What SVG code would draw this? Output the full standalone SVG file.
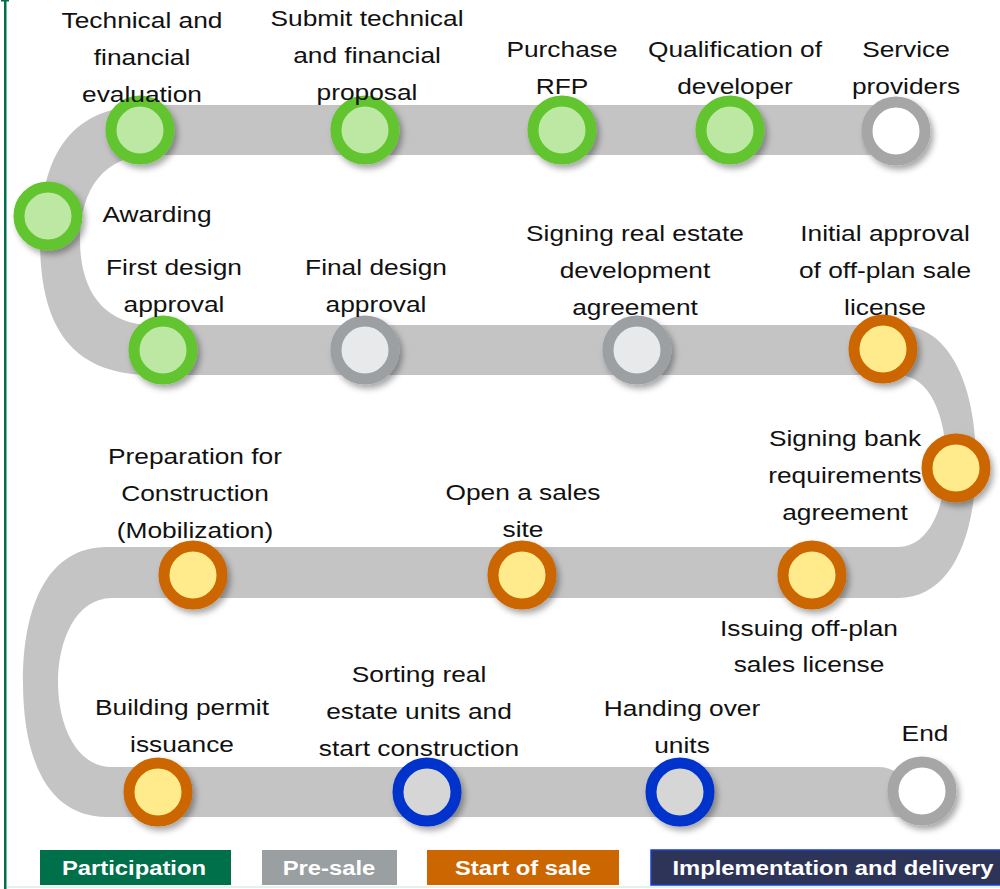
<svg xmlns="http://www.w3.org/2000/svg" width="1000" height="889" viewBox="0 0 1000 889">
<defs>
<filter id="sh" x="-40%" y="-40%" width="190%" height="190%">
<feDropShadow dx="3" dy="4" stdDeviation="3" flood-color="#000" flood-opacity="0.35"/>
</filter>
<style>
.road{fill:#c4c4c4}
.n{stroke-width:11;filter:url(#sh)}
.g{stroke:#62c42f;fill:#bde8a4}
.p{stroke:#9ca0a2;fill:#e8e9eb}
.o{stroke:#cc6600;fill:#ffeb8c}
.b{stroke:#0033cc;fill:#d6d6d6}
.w{stroke:#a6a6a6;fill:#ffffff}
.t{font-family:"Liberation Sans",Arial,sans-serif;font-size:22.5px;fill:#111;text-anchor:middle}
.lg{font-family:"Liberation Sans",Arial,sans-serif;font-size:20px;font-weight:bold;fill:#fff;text-anchor:middle}
</style>
</defs>
<rect width="1000" height="889" fill="#fff"/>
<g id="frame">
<rect x="4" y="0" width="2.5" height="889" fill="#00704a"/>
<rect x="1" y="0" width="8" height="1.5" fill="#00704a"/>
<rect x="7" y="886" width="993" height="2" fill="#e3f3ec"/>
</g>
<g id="connectors">
<rect class="road" x="150" y="105" width="745" height="50"/>
<path class="road" d="M152 105 C 72 105 40 152 40 240 C 40 328 72 375 152 375 L152 325 C 105 325 80 292 80 240 C 80 188 105 155 152 155 Z"/>
<rect class="road" x="150" y="325" width="750" height="50"/>
<path class="road" d="M898 325 C 952 325 976 390 976 461 C 976 535 952 598 898 598 L898 547 C 930 547 946 505 946 461 C 946 417 930 375 898 375 Z"/>
<rect class="road" x="105" y="547" width="795" height="51"/>
<path class="road" d="M107 547 C 48 547 23 605 23 682 C 23 760 48 817 107 817 L112 767 C 76 767 58 725 58 682 C 58 640 76 598 112 598 Z"/>
<path class="road" d="M105 767 H 878 Q 900 767 908 790 V 817 H 105 Z"/>
</g>
<g id="n1"><circle class="n g" cx="140" cy="130" r="29"/><text class="t" transform="translate(142,0) scale(1.17,1)"><tspan x="0" y="28">Technical and</tspan><tspan x="0" y="65">financial</tspan><tspan x="0" y="102">evaluation</tspan></text></g>
<g id="n2"><circle class="n g" cx="365" cy="130" r="29"/><text class="t" transform="translate(367,0) scale(1.17,1)"><tspan x="0" y="26">Submit technical</tspan><tspan x="0" y="63">and financial</tspan><tspan x="0" y="100">proposal</tspan></text></g>
<g id="n3"><circle class="n g" cx="562" cy="130" r="29"/><text class="t" transform="translate(562,0) scale(1.17,1)"><tspan x="0" y="57">Purchase</tspan><tspan x="0" y="94">RFP</tspan></text></g>
<g id="n4"><circle class="n g" cx="730" cy="130" r="29"/><text class="t" transform="translate(735,0) scale(1.17,1)"><tspan x="0" y="57">Qualification of</tspan><tspan x="0" y="94">developer</tspan></text></g>
<g id="n5"><circle class="n w" cx="896" cy="131" r="29"/><text class="t" transform="translate(906,0) scale(1.17,1)"><tspan x="0" y="57">Service</tspan><tspan x="0" y="94">providers</tspan></text></g>
<g id="n6"><circle class="n g" cx="48" cy="216" r="29"/><text class="t" transform="translate(157,0) scale(1.17,1)"><tspan x="0" y="222">Awarding</tspan></text></g>
<g id="n7"><circle class="n g" cx="163" cy="350" r="29"/><text class="t" transform="translate(174,0) scale(1.17,1)"><tspan x="0" y="275">First design</tspan><tspan x="0" y="312">approval</tspan></text></g>
<g id="n8"><circle class="n p" cx="365" cy="350" r="29"/><text class="t" transform="translate(376,0) scale(1.17,1)"><tspan x="0" y="275">Final design</tspan><tspan x="0" y="312">approval</tspan></text></g>
<g id="n9"><circle class="n p" cx="637" cy="350" r="29"/><text class="t" transform="translate(635,0) scale(1.17,1)"><tspan x="0" y="241">Signing real estate</tspan><tspan x="0" y="278">development</tspan><tspan x="0" y="315">agreement</tspan></text></g>
<g id="n10"><circle class="n o" cx="883" cy="349" r="29"/><text class="t" transform="translate(885,0) scale(1.17,1)"><tspan x="0" y="241">Initial approval</tspan><tspan x="0" y="278">of off-plan sale</tspan><tspan x="0" y="315">license</tspan></text></g>
<g id="n11"><circle class="n o" cx="956" cy="468" r="29"/><text class="t" transform="translate(845,0) scale(1.17,1)"><tspan x="0" y="446">Signing bank</tspan><tspan x="0" y="483">requirements</tspan><tspan x="0" y="520">agreement</tspan></text></g>
<g id="n12"><circle class="n o" cx="812" cy="575" r="29"/><text class="t" transform="translate(809,0) scale(1.17,1)"><tspan x="0" y="636">Issuing off-plan</tspan><tspan x="0" y="672">sales license</tspan></text></g>
<g id="n13"><circle class="n o" cx="522" cy="575" r="29"/><text class="t" transform="translate(523,0) scale(1.17,1)"><tspan x="0" y="500">Open a sales</tspan><tspan x="0" y="537">site</tspan></text></g>
<g id="n14"><circle class="n o" cx="193" cy="575" r="29"/><text class="t" transform="translate(195,0) scale(1.17,1)"><tspan x="0" y="464">Preparation for</tspan><tspan x="0" y="501">Construction</tspan><tspan x="0" y="538">(Mobilization)</tspan></text></g>
<g id="n15"><circle class="n o" cx="158" cy="792" r="29"/><text class="t" transform="translate(182,0) scale(1.17,1)"><tspan x="0" y="715">Building permit</tspan><tspan x="0" y="752">issuance</tspan></text></g>
<g id="n16"><circle class="n b" cx="427" cy="792" r="29"/><text class="t" transform="translate(419,0) scale(1.17,1)"><tspan x="0" y="682">Sorting real</tspan><tspan x="0" y="719">estate units and</tspan><tspan x="0" y="756">start construction</tspan></text></g>
<g id="n17"><circle class="n b" cx="680" cy="792" r="29"/><text class="t" transform="translate(682,0) scale(1.17,1)"><tspan x="0" y="716">Handing over</tspan><tspan x="0" y="753">units</tspan></text></g>
<g id="n18"><circle class="n w" cx="922" cy="791" r="29"/><text class="t" transform="translate(925,0) scale(1.17,1)"><tspan x="0" y="741">End</tspan></text></g>
<g id="legend">
<rect x="40" y="850" width="191" height="35" fill="#00704a"/>
<text class="lg" transform="translate(134,0) scale(1.19,1)" x="0" y="875">Participation</text>
<rect x="262" y="850" width="135" height="35" fill="#9aa0a1"/>
<text class="lg" transform="translate(329,0) scale(1.19,1)" x="0" y="875">Pre-sale</text>
<rect x="427" y="850" width="192" height="35" fill="#cc6600"/>
<text class="lg" transform="translate(523,0) scale(1.19,1)" x="0" y="875">Start of sale</text>
<rect x="651" y="850" width="350" height="35" fill="#2e3458" stroke="#1a3fd0" stroke-width="1.5"/>
<text class="lg" transform="translate(833,0) scale(1.19,1)" x="0" y="875">Implementation and delivery</text>
</g>
</svg>
